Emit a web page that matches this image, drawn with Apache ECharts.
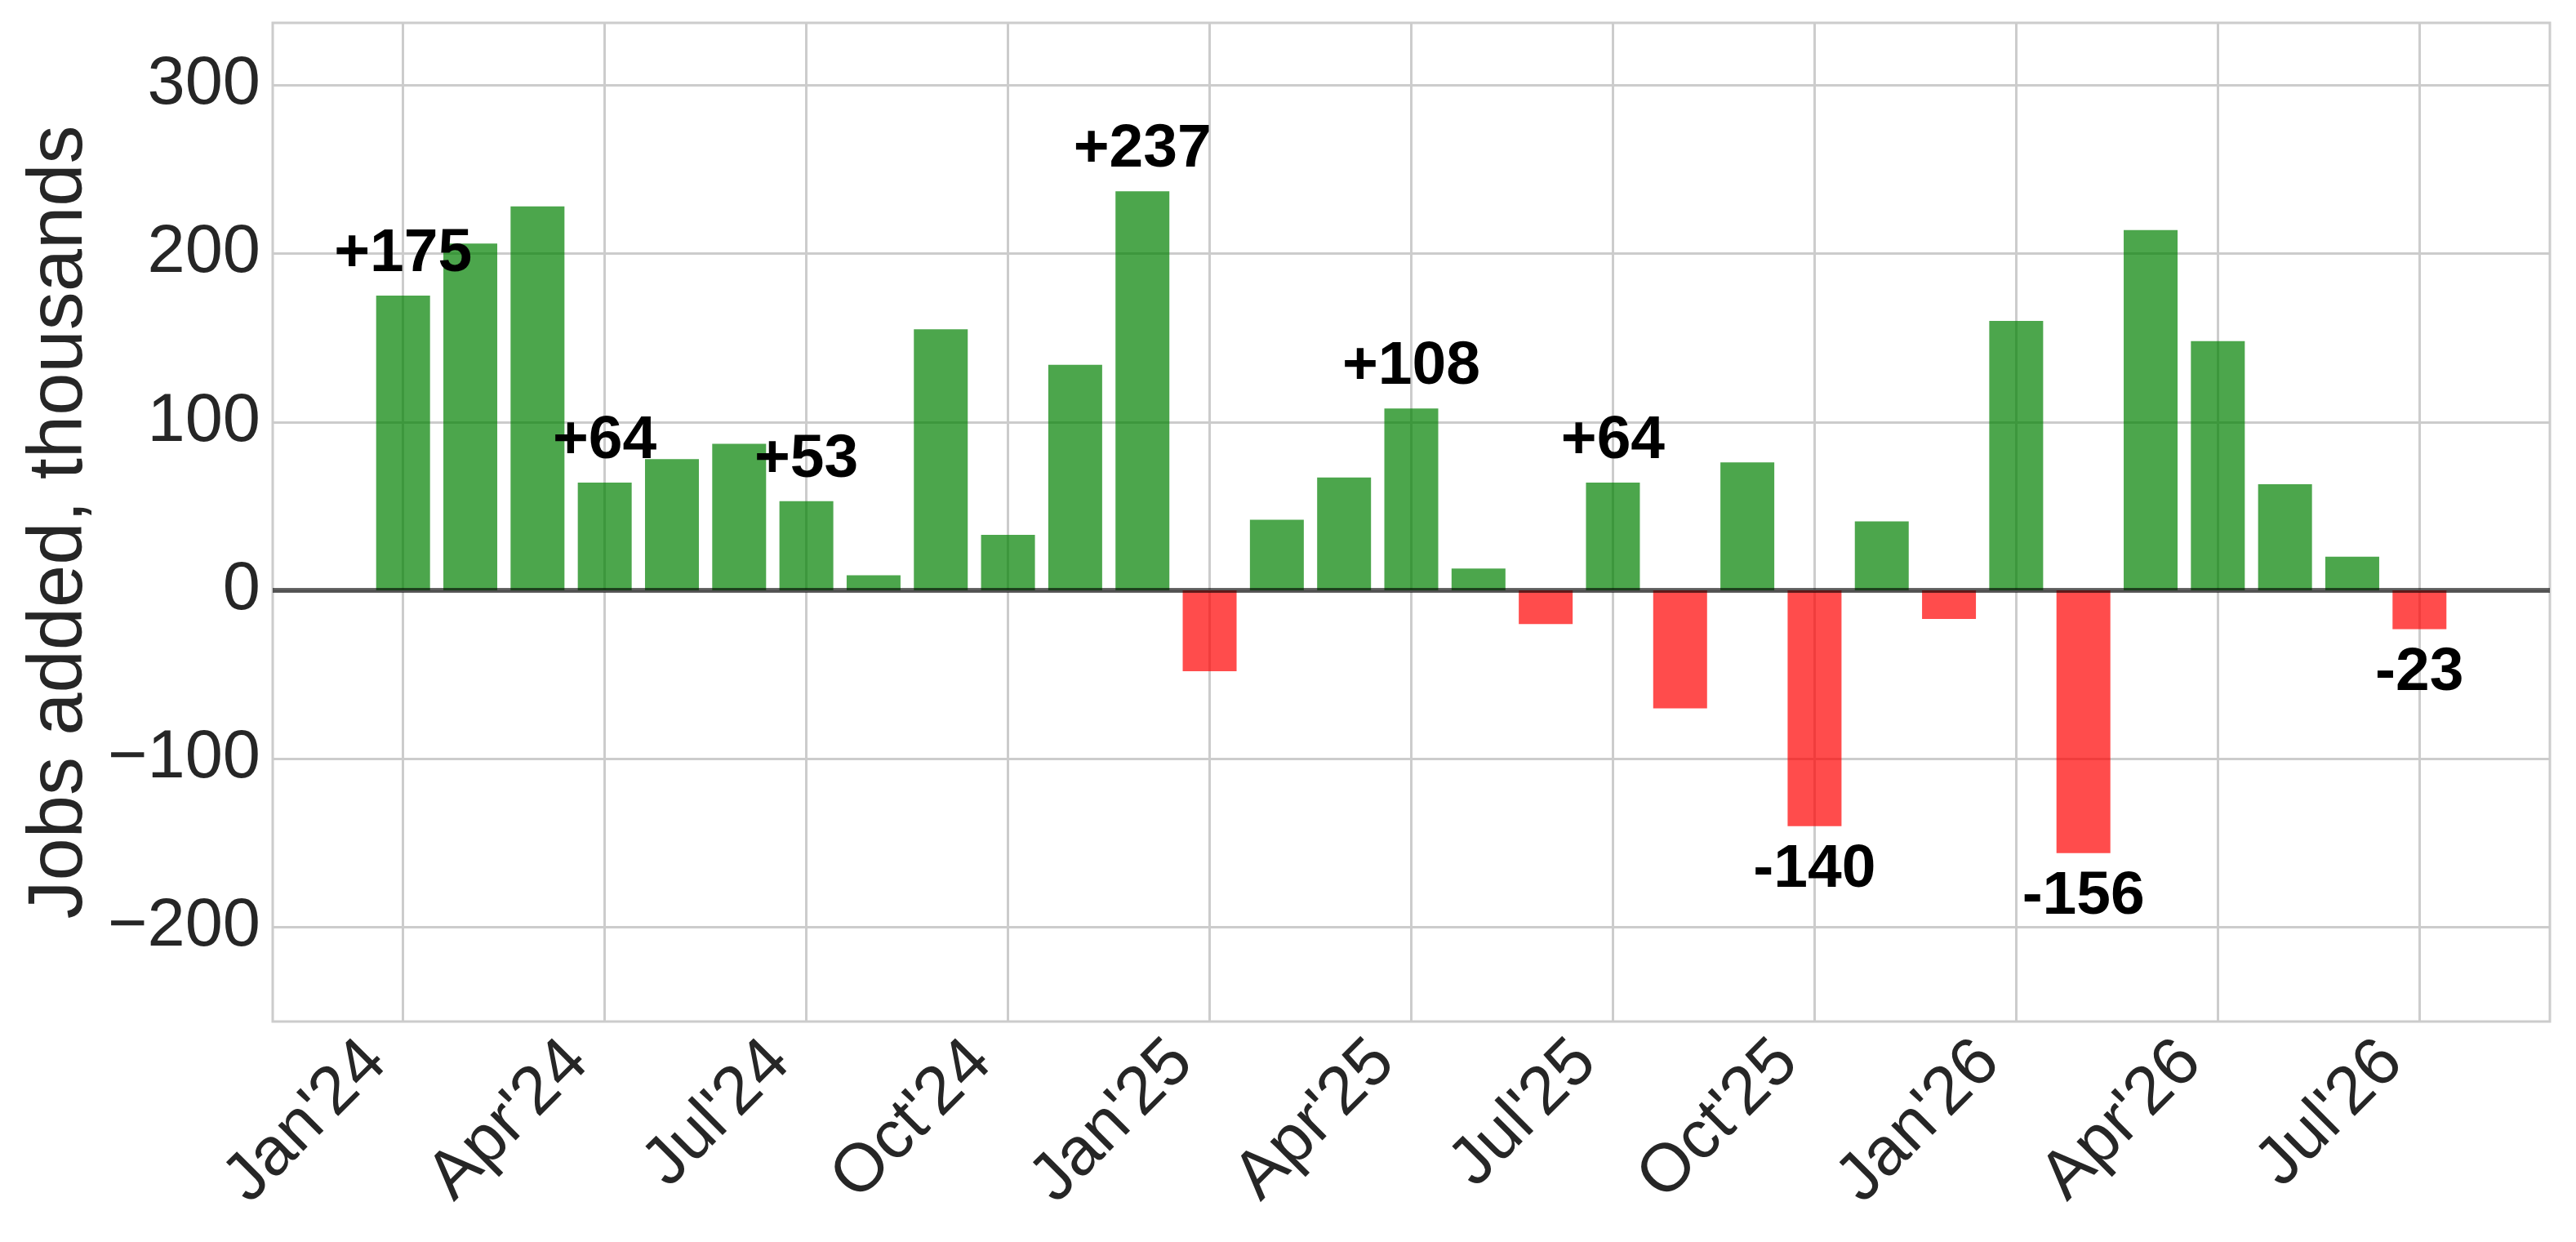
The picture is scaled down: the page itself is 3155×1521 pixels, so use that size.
<!DOCTYPE html>
<html>
<head>
<meta charset="utf-8">
<script src="https://cdn.jsdelivr.net/npm/echarts@6/dist/echarts.min.js"></script>
<style>
html, body { margin: 0; padding: 0; background: #ffffff; }
#chart { width: 3155px; height: 1521px; }
</style>
</head>
<body>
<div id="chart"></div>
<script>
// ---- data ----
var months = ["Jan'24","Feb'24","Mar'24","Apr'24","May'24","Jun'24","Jul'24","Aug'24","Sep'24","Oct'24","Nov'24","Dec'24",
              "Jan'25","Feb'25","Mar'25","Apr'25","May'25","Jun'25","Jul'25","Aug'25","Sep'25","Oct'25","Nov'25","Dec'25",
              "Jan'26","Feb'26","Mar'26","Apr'26","May'26","Jun'26","Jul'26"];
var jobsAdded = [175, 206, 228, 64, 78, 87, 53, 9, 155, 33, 134, 237,
                 -48, 42, 67, 108, 13, -20, 64, -70, 76, -140, 41, -17,
                 160, -156, 214, 148, 63, 20, -23];
var annotatedMonths = ["Jan'24","Apr'24","Jul'24","Dec'24","Apr'25","Jul'25","Oct'25","Feb'26","Jul'26"];
var xTickLabels = ["Jan'24","Apr'24","Jul'24","Oct'24","Jan'25","Apr'25","Jul'25","Oct'25","Jan'26","Apr'26","Jul'26"];
var yTicks = [-200, -100, 0, 100, 200, 300];

// ---- build ----
var FONT = '"Liberation Sans", Arial, Helvetica, sans-serif';
var xTickValues = xTickLabels.map(function (l) { return months.indexOf(l); });

var barData = jobsAdded.map(function (v, i) {
  var pos = v >= 0;
  var item = {
    value: [i, v],
    itemStyle: { color: pos ? 'rgba(0,128,0,0.7)' : 'rgba(255,0,0,0.7)' }
  };
  if (annotatedMonths.indexOf(months[i]) >= 0) {
    item.label = {
      show: true,
      position: pos ? 'top' : 'bottom',
      distance: pos ? 13 : 16,
      formatter: (pos ? '+' : '') + v,
      fontSize: 75,
      fontWeight: 'bold',
      color: '#000000',
      fontFamily: FONT
    };
  }
  return item;
});

var chart = echarts.init(document.getElementById('chart'), null, { renderer: 'canvas' });
chart.setOption({
  animation: false,
  backgroundColor: '#ffffff',
  grid: {
    left: 334, right: 32, top: 28, bottom: 270,
    containLabel: false,
    outerBoundsMode: 'none',
    show: true,
    borderColor: '#cccccc',
    borderWidth: 3,
    backgroundColor: 'transparent'
  },
  xAxis: {
    type: 'value',
    min: -1.94,
    max: 31.94,
    axisLine: { show: false },
    axisTick: { show: false, customValues: xTickValues },
    splitLine: { show: true, lineStyle: { color: '#cccccc', width: 3 } },
    axisLabel: {
      customValues: xTickValues,
      formatter: function (v) { return months[Math.round(v)]; },
      rotate: 45,
      margin: 4,
      padding: [0, 47, 0, 0],
      fontSize: 83,
      color: '#262626',
      fontFamily: FONT
    }
  },
  yAxis: {
    type: 'value',
    min: -256,
    max: 337,
    name: 'Jobs added, thousands',
    nameLocation: 'middle',
    nameGap: 209,
    nameTextStyle: { fontSize: 94, color: '#262626', fontFamily: FONT },
    axisLine: { show: false },
    axisTick: { show: false, customValues: yTicks },
    splitLine: { show: true, lineStyle: { color: '#cccccc', width: 3 } },
    axisLabel: {
      customValues: yTicks,
      formatter: function (v) { return String(v).replace('-', '\u2212'); },
      margin: 15,
      fontSize: 83,
      color: '#262626',
      fontFamily: FONT
    }
  },
  series: [{
    type: 'bar',
    data: barData,
    barWidth: 66,
    markLine: {
      silent: true,
      symbol: ['none', 'none'],
      label: { show: false },
      lineStyle: { color: 'rgba(0,0,0,0.6)', width: 6, type: 'solid' },
      data: [{ yAxis: 0 }]
    }
  }]
});
</script>
</body>
</html>
